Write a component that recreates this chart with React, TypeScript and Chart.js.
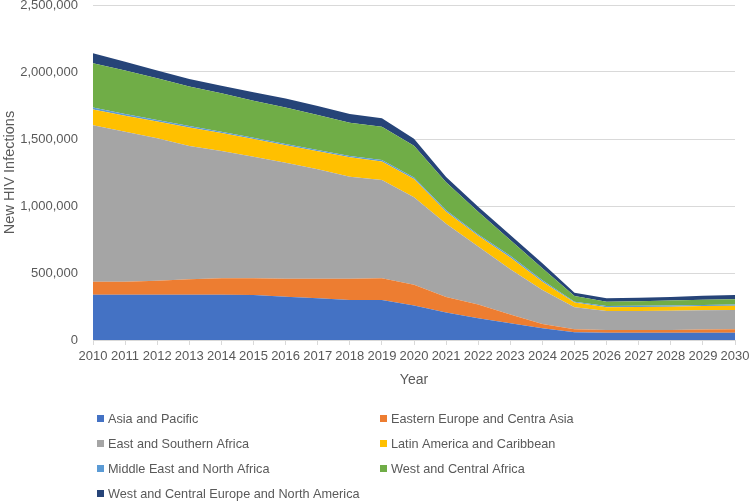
import React, { useEffect, useRef } from "react";
import { Chart, registerables } from "chart.js";

Chart.register(...registerables);

const years = [
  "2010", "2011", "2012", "2013", "2014", "2015", "2016", "2017", "2018", "2019", "2020",
  "2021", "2022", "2023", "2024", "2025", "2026", "2027", "2028", "2029", "2030",
];

const asiaPacific = [338000, 338000, 338000, 338000, 338000, 335000, 323000, 311000, 299000, 299000, 257000, 205000, 162000, 125000, 87000, 57000, 55000, 55000, 55000, 55000, 55000];
const easternEurope = [97000, 97000, 105000, 115000, 122000, 125000, 135000, 147000, 159000, 161000, 155000, 115000, 102000, 65000, 32000, 23000, 20000, 20000, 20000, 23000, 25000];
const eastSouthernAfrica = [1167000, 1120000, 1062000, 995000, 950000, 908000, 865000, 816000, 761000, 734000, 654000, 548000, 434000, 338000, 254000, 164000, 141000, 142000, 144000, 144000, 144000];
const latinAmerica = [119000, 118000, 125000, 138000, 135000, 132000, 130000, 134000, 144000, 139000, 136000, 90000, 80000, 88000, 62000, 35000, 28000, 29000, 30000, 31000, 32000];
const middleEast = [15000, 14000, 12000, 11000, 10000, 10000, 10000, 10000, 10000, 10000, 10000, 10000, 10000, 12000, 10000, 7000, 10000, 9000, 8000, 8000, 8000];
const westCentralAfrica = [329000, 325000, 311000, 294000, 286000, 275000, 273000, 261000, 249000, 249000, 237000, 210000, 170000, 118000, 90000, 42000, 32000, 34000, 37000, 39000, 40000];
const westCentralEuropeNA = [74000, 65000, 58000, 56000, 56000, 64000, 67000, 67000, 65000, 62000, 52000, 38000, 37000, 38000, 37000, 25000, 25000, 26000, 27000, 30000, 32000];

const seriesLabels = [
  "Asia and Pacific",
  "Eastern Europe and Centra Asia",
  "East and Southern Africa",
  "Latin America and Caribbean",
  "Middle East and North Africa",
  "West and Central Africa",
  "West and Central Europe and North America",
];
const seriesData = [asiaPacific, easternEurope, eastSouthernAfrica, latinAmerica, middleEast, westCentralAfrica, westCentralEuropeNA];
const seriesColors = ["#4472C4", "#ED7D31", "#A5A5A5", "#FFC000", "#5B9BD5", "#70AD47", "#264478"];

const FONT = '"Liberation Sans", Arial, sans-serif';
const TEXT = "#595959";

const gridLegend = {
  id: "gridLegend",
  afterDraw(chart: any) {
    const ctx = chart.ctx;
    ctx.save();
    ctx.font = `12.7px ${FONT}`;
    ctx.textBaseline = "middle";
    ctx.textAlign = "left";
    const colX = [97, 380];
    chart.data.datasets.forEach((ds: any, i: number) => {
      const col = i % 2;
      const row = Math.floor(i / 2);
      const x = colX[col];
      const y = 419 + row * 25;
      ctx.fillStyle = ds.backgroundColor;
      ctx.fillRect(x, y - 4, 7, 7);
      ctx.fillStyle = TEXT;
      ctx.fillText(ds.label, x + 11, y);
    });
    ctx.restore();
  },
};

export default function App() {
  const ref = useRef<HTMLCanvasElement | null>(null);

  useEffect(() => {
    if (!ref.current) return;
    const chart = new Chart(ref.current, {
      type: "line",
      data: {
        labels: years,
        datasets: seriesData.map((d, i) => ({
          label: seriesLabels[i],
          data: d,
          backgroundColor: seriesColors[i],
          borderColor: seriesColors[i],
          borderWidth: 0,
          pointRadius: 0,
          pointHoverRadius: 0,
          tension: 0,
          fill: i === 0 ? "origin" : "-1",
        })),
      },
      options: {
        animation: false,
        responsive: false,
        maintainAspectRatio: false,
        layout: { padding: { left: 0, right: 15, top: 5, bottom: 101 } },
        plugins: {
          legend: { display: false },
          tooltip: { enabled: false },
        },
        scales: {
          x: {
            offset: false,
            grid: {
              drawOnChartArea: false,
              drawTicks: true,
              tickLength: 5,
              color: "#D9D9D9",
            },
            border: { display: true, color: "#D9D9D9" },
            ticks: {
              autoSkip: false,
              maxRotation: 0,
              minRotation: 0,
              padding: 4,
              color: TEXT,
              font: { family: FONT, size: 13 },
            },
            title: {
              display: true,
              text: "Year",
              color: TEXT,
              font: { family: FONT, size: 14 },
              padding: { top: 0, bottom: 11 },
            },
            afterFit(scale: any) {
              scale.height = 60;
              scale.paddingLeft = 0;
              scale.paddingRight = 0;
            },
          },
          y: {
            stacked: true,
            min: 0,
            max: 2500000,
            grid: { color: "#D9D9D9", drawTicks: false },
            border: { display: false },
            ticks: {
              stepSize: 500000,
              padding: 15,
              color: TEXT,
              font: { family: FONT, size: 13 },
              callback: (v: any) => Number(v).toLocaleString("en-US"),
            },
            title: {
              display: true,
              text: "New HIV Infections",
              color: TEXT,
              font: { family: FONT, size: 14.5 },
              padding: { top: 1, bottom: 0 },
            },
            afterFit(scale: any) {
              scale.width = 93;
              scale.paddingTop = 0;
              scale.paddingBottom = 0;
            },
          },
        },
      },
      plugins: [gridLegend],
    });
    return () => chart.destroy();
  }, []);

  return (
    <div style={{ position: "absolute", left: 0, top: 0, width: 750, height: 501, background: "#fff" }}>
      <canvas ref={ref} width={750} height={501} style={{ display: "block", width: 750, height: 501 }} />
    </div>
  );
}
